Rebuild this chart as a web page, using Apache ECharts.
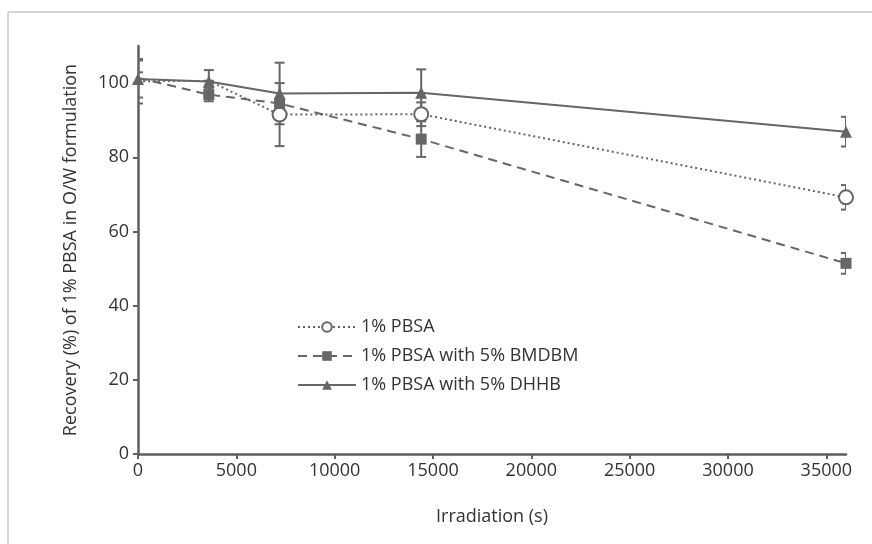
<!DOCTYPE html>
<html>
<head>
<meta charset="utf-8">
<script src="https://cdn.jsdelivr.net/npm/echarts@6/dist/echarts.min.js"></script>
<style>
  html, body { margin: 0; padding: 0; background: #fff; }
  #chart { width: 872px; height: 544px; }
</style>
</head>
<body>
<div id="chart"></div>
<script>
// irradiation times (s)
var times = [0, 3600, 7200, 14400, 36000]
// recovery (%) and error bars
var pbsa = [100.5, 100.6, 91.5, 91.6, 69.2]
var pbsaErr = [6.0, 0, 8.5, 3.2, 3.3]
var bmdbm = [101.4, 96.9, 94.5, 84.9, 51.4]
var bmdbmErr = [1.5, 1.8, 1.0, 4.8, 2.8]
var dhhb = [101.1, 100.4, 97.2, 97.4, 86.9]
var dhhbErr = [5.0, 3.1, 8.3, 6.3, 4.0]

var names = ['1% PBSA', '1% PBSA with 5% BMDBM', '1% PBSA with 5% DHHB']
var xTicks = [0, 5000, 10000, 15000, 20000, 25000, 30000, 35000]
var yTicks = [0, 20, 40, 60, 80, 100]

var grey = '#666666'
var axisGrey = '#5e5e5e'
var font = 'Open Sans'

function pairs(vals) {
  return times.map(function (t, i) { return [t, vals[i]] })
}

function errData(vals, errs) {
  return times.map(function (t, i) { return [t, vals[i] - errs[i], vals[i] + errs[i]] })
}

// vertical error bar with caps
function renderErr(params, api) {
  var lo = api.coord([api.value(0), api.value(1)])
  var hi = api.coord([api.value(0), api.value(2)])
  var w = 5
  var style = { stroke: grey, lineWidth: 2, fill: null }
  return {
    type: 'group',
    children: [
      { type: 'line', shape: { x1: lo[0], y1: lo[1], x2: hi[0], y2: hi[1] }, style: style },
      { type: 'line', shape: { x1: lo[0] - w, y1: lo[1], x2: lo[0] + w, y2: lo[1] }, style: style },
      { type: 'line', shape: { x1: hi[0] - w, y1: hi[1], x2: hi[0] + w, y2: hi[1] }, style: style }
    ]
  }
}

var chart = echarts.init(document.getElementById('chart'))

var option = {
  animation: false,
  textStyle: { fontFamily: font },
  graphic: [
    { type: 'line', shape: { x1: 8, y1: 12, x2: 872, y2: 12 }, style: { stroke: '#d6d6d6', lineWidth: 2 } },
    { type: 'line', shape: { x1: 8, y1: 12, x2: 8, y2: 544 }, style: { stroke: '#d6d6d6', lineWidth: 2 } }
  ],
  grid: { left: 138, right: 26, top: 46, bottom: 90 },
  legend: {
    orient: 'vertical',
    left: 292,
    top: 313,
    itemWidth: 58,
    itemHeight: 12,
    itemGap: 11,
    textStyle: { fontSize: 18, color: '#333', fontFamily: font },
    data: names
  },
  xAxis: {
    type: 'value',
    min: 0,
    max: 36000,
    name: 'Irradiation (s)',
    nameLocation: 'middle',
    nameGap: 54,
    nameTextStyle: { fontSize: 18, color: '#333' },
    splitLine: { show: false },
    axisLine: { lineStyle: { color: axisGrey, width: 2.5 } },
    axisTick: { customValues: xTicks, length: 5, lineStyle: { color: axisGrey, width: 2 } },
    axisLabel: {
      customValues: xTicks, fontSize: 18, color: '#333', margin: 8,
      formatter: function (v) { return String(v) }
    }
  },
  yAxis: {
    type: 'value',
    min: 0,
    max: 110,
    name: 'Recovery (%) of 1% PBSA in O/W formulation',
    nameLocation: 'middle',
    nameGap: 58,
    nameTextStyle: { fontSize: 18, color: '#333' },
    splitLine: { show: false },
    axisLine: { show: true, lineStyle: { color: axisGrey, width: 2.5 } },
    axisTick: { show: true, customValues: yTicks, length: 5, lineStyle: { color: axisGrey, width: 2 } },
    axisLabel: { customValues: yTicks, fontSize: 18, color: '#333', margin: 9 }
  },
  series: [
    {
      type: 'custom', name: 'errPbsa', renderItem: renderErr, clip: true, z: 1,
      encode: { x: 0, y: [1, 2] }, data: errData(pbsa, pbsaErr), silent: true
    },
    {
      type: 'custom', name: 'errBmdbm', renderItem: renderErr, clip: true, z: 1,
      encode: { x: 0, y: [1, 2] }, data: errData(bmdbm, bmdbmErr), silent: true
    },
    {
      type: 'custom', name: 'errDhhb', renderItem: renderErr, clip: true, z: 1,
      encode: { x: 0, y: [1, 2] }, data: errData(dhhb, dhhbErr), silent: true
    },
    {
      name: names[0], type: 'line', z: 3,
      data: pairs(pbsa),
      symbol: 'circle',
      // markers at 0 s and 3600 s are hidden behind the others in the figure
      symbolSize: function (v, p) { return p.dataIndex < 2 ? 0 : 14 },
      showAllSymbol: true,
      lineStyle: { color: grey, width: 2, type: [2, 3] },
      itemStyle: { color: '#fff', borderColor: grey, borderWidth: 2 }
    },
    {
      name: names[1], type: 'line', z: 4,
      data: pairs(bmdbm),
      symbol: 'rect',
      symbolSize: function (v, p) { return p.dataIndex === 0 ? 0 : 11 },
      showAllSymbol: true,
      lineStyle: { color: grey, width: 2, type: [9, 6] },
      itemStyle: { color: grey, borderWidth: 0 }
    },
    {
      name: names[2], type: 'line', z: 5,
      data: pairs(dhhb),
      symbol: 'triangle', symbolSize: 12,
      lineStyle: { color: grey, width: 2 },
      itemStyle: { color: grey, borderWidth: 0 }
    }
  ]
}

chart.setOption(option)
</script>
</body>
</html>
